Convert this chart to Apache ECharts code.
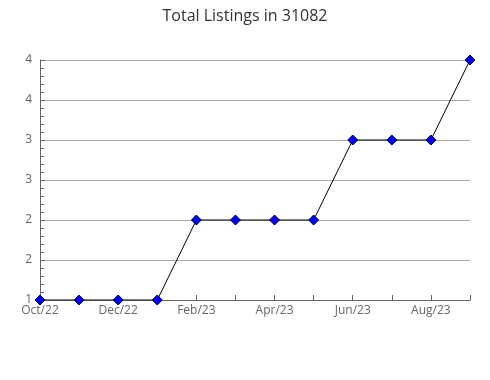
<!DOCTYPE html>
<html><head><meta charset="utf-8">
<script src="https://cdn.jsdelivr.net/npm/echarts@6/dist/echarts.min.js"></script>
<style>html,body{margin:0;padding:0;background:#fff}#c{width:490px;height:380px}</style>
</head><body><div id="c"></div>
<script>
const categories = ['Oct/22','Nov/22','Dec/22','Jan/23','Feb/23','Mar/23','Apr/23','May/23','Jun/23','Jul/23','Aug/23','Sep/23'];
const listings = [1,1,1,1,2,2,2,2,3,3,3,4];
const chart = echarts.init(document.getElementById('c'));
chart.setOption({
  animation: false,
  title: {text: 'Total Listings in 31082', left: 'center', top: 3,
    textStyle: {fontFamily: 'Open Sans', fontSize: 16, fontWeight: 'normal', color: '#333'}},
  grid: {left: 40, right: 20, top: 60, bottom: 80},
  xAxis: {type: 'category', data: categories, boundaryGap: false,
    axisLine: {lineStyle: {color: '#666', width: 1}},
    axisTick: {inside: true, length: 5, interval: 0, lineStyle: {color: '#666'}},
    axisLabel: {interval: 1, color: '#666', fontFamily: 'Open Sans', fontSize: 12, margin: 5},
    splitLine: {show: false}},
  yAxis: {type: 'value', min: 1, max: 4, interval: 0.5,
    axisLine: {show: true, lineStyle: {color: '#666', width: 1}},
    axisTick: {show: true, inside: true, length: 5, lineStyle: {color: '#666'}},
    minorTick: {show: true, splitNumber: 5, length: 4, lineStyle: {color: '#666'}},
    axisLabel: {color: '#666', fontFamily: 'Open Sans', fontSize: 12, margin: 8,
      formatter: v => String(Math.round(v))},
    splitLine: {show: true, lineStyle: {color: '#aaa', width: 1}}},
  series: [{type: 'line', data: listings, symbol: 'diamond', symbolSize: 10,
    lineStyle: {color: '#000', width: 1},
    itemStyle: {color: '#0000ff', borderColor: '#000033', borderWidth: 1}}]
});
</script></body></html>
